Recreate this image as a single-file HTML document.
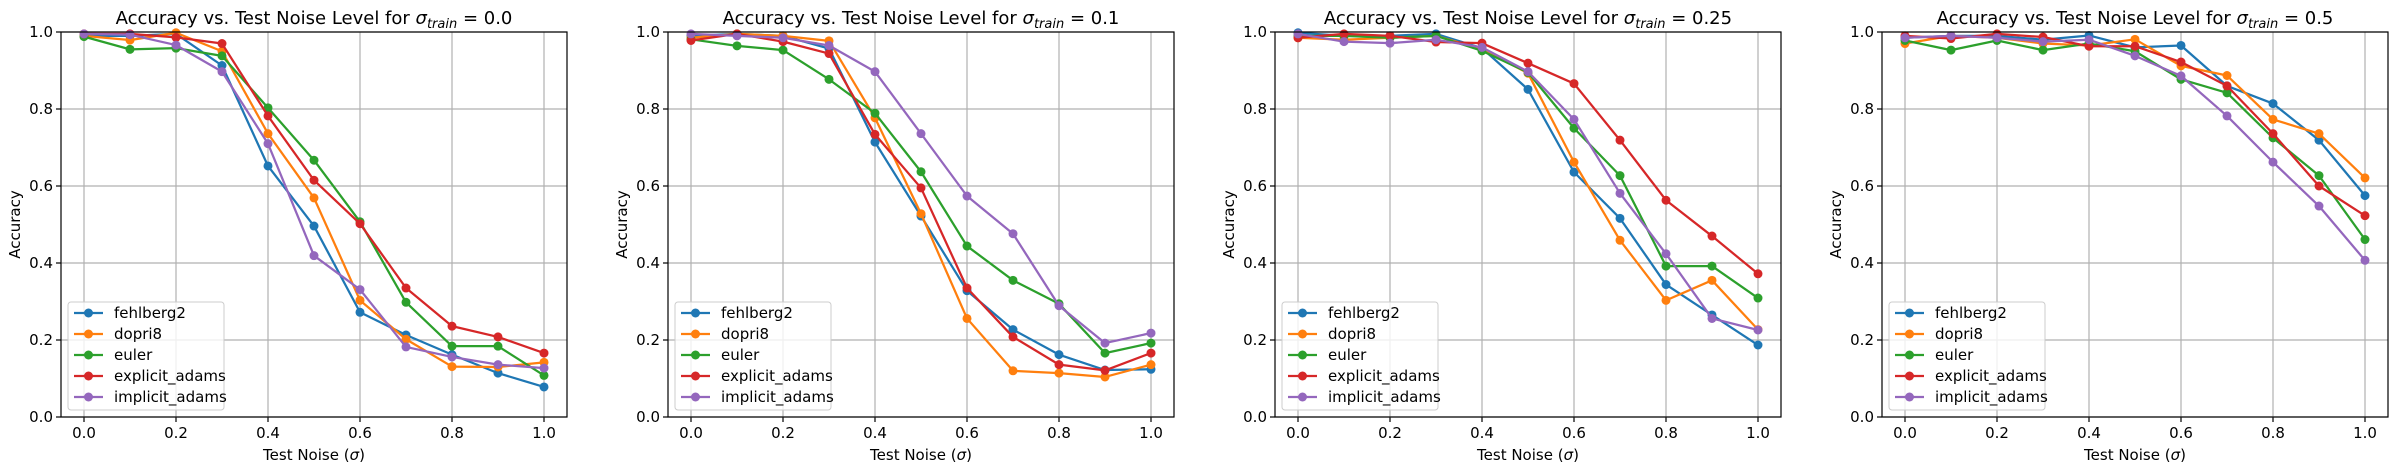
<!DOCTYPE html>
<html><head><meta charset="utf-8"><style>
body{margin:0;background:#fff}
svg{display:block;font-family:"DejaVu Sans","Liberation Sans",sans-serif}
</style></head><body>
<svg id="chart" width="2396" height="472" viewBox="0 0 2396 472" xmlns="http://www.w3.org/2000/svg"></svg>
<script>
const xValues=[0,0.1,0.2,0.3,0.4,0.5,0.6,0.7,0.8,0.9,1.0];
const xTicks=[0,0.2,0.4,0.6,0.8,1.0];
const yTicks=[0,0.2,0.4,0.6,0.8,1.0];
const seriesNames=["fehlberg2","dopri8","euler","explicit_adams","implicit_adams"];
const seriesColors=["#1f77b4","#ff7f0e","#2ca02c","#d62728","#9467bd"];
const trainSigmas=["0.0","0.1","0.25","0.5"];
const p0_fehlberg2=[0.99,0.99,0.995,0.913,0.652,0.496,0.272,0.213,0.162,0.114,0.078];
const p0_dopri8=[0.99,0.979,0.998,0.95,0.736,0.569,0.303,0.202,0.131,0.13,0.142];
const p0_euler=[0.988,0.955,0.958,0.938,0.803,0.667,0.507,0.298,0.184,0.184,0.108];
const p0_explicit=[0.995,0.995,0.986,0.97,0.782,0.615,0.502,0.335,0.236,0.208,0.166];
const p0_implicit=[0.995,0.993,0.966,0.897,0.71,0.419,0.331,0.182,0.156,0.136,0.127];
const p1_fehlberg2=[0.99,0.995,0.99,0.957,0.714,0.522,0.328,0.227,0.162,0.122,0.124];
const p1_dopri8=[0.985,0.995,0.99,0.977,0.777,0.528,0.256,0.12,0.114,0.104,0.136];
const p1_euler=[0.981,0.964,0.953,0.877,0.789,0.637,0.444,0.355,0.294,0.166,0.192];
const p1_explicit=[0.978,0.995,0.975,0.944,0.734,0.595,0.335,0.208,0.136,0.121,0.166];
const p1_implicit=[0.995,0.99,0.985,0.965,0.897,0.736,0.574,0.476,0.289,0.192,0.218];
const p2_fehlberg2=[0.998,0.99,0.99,0.995,0.958,0.851,0.636,0.516,0.344,0.265,0.187];
const p2_dopri8=[0.985,0.98,0.985,0.99,0.955,0.893,0.662,0.459,0.303,0.355,0.227];
const p2_euler=[0.99,0.99,0.985,0.99,0.951,0.895,0.75,0.627,0.392,0.392,0.309];
const p2_explicit=[0.985,0.995,0.99,0.974,0.971,0.919,0.866,0.719,0.563,0.47,0.372];
const p2_implicit=[0.995,0.975,0.971,0.98,0.96,0.897,0.773,0.581,0.424,0.256,0.226];
const p3_fehlberg2=[0.985,0.99,0.99,0.98,0.991,0.96,0.965,0.86,0.814,0.719,0.575];
const p3_dopri8=[0.97,0.99,0.985,0.97,0.965,0.981,0.912,0.887,0.773,0.736,0.621];
const p3_euler=[0.978,0.953,0.978,0.953,0.97,0.95,0.877,0.842,0.725,0.627,0.461];
const p3_explicit=[0.99,0.983,0.995,0.987,0.963,0.963,0.922,0.86,0.736,0.6,0.523];
const p3_implicit=[0.985,0.99,0.985,0.975,0.98,0.938,0.886,0.782,0.662,0.548,0.407];
const panels=[[p0_fehlberg2,p0_dopri8,p0_euler,p0_explicit,p0_implicit],[p1_fehlberg2,p1_dopri8,p1_euler,p1_explicit,p1_implicit],[p2_fehlberg2,p2_dopri8,p2_euler,p2_explicit,p2_implicit],[p3_fehlberg2,p3_dopri8,p3_euler,p3_explicit,p3_implicit]];

const NS="http://www.w3.org/2000/svg";
const svg=document.getElementById('chart');
function mk(tag,attrs,parent){const e=document.createElementNS(NS,tag);for(const k in attrs)e.setAttribute(k,attrs[k]);(parent||svg).appendChild(e);return e;}
const AX_W=506,TOP=32,BOT=417;
panels.forEach((series,pi)=>{
  const L=61+607*pi;
  const g=mk('g',{});
  
  
  const sx=v=>L+(v+0.05)/1.1*AX_W;
  const sy=v=>BOT-v*(BOT-TOP);
  xTicks.forEach(t=>{
    const gl=mk('line',{x1:sx(t),x2:sx(t),y1:TOP,y2:BOT,stroke:'#b0b0b0','stroke-width':1.2},g);
    
    
    mk('line',{x1:sx(t),x2:sx(t),y1:BOT,y2:BOT+5,stroke:'#000','stroke-width':1.2},g);
    const tl=mk('text',{x:sx(t),y:BOT+21,'font-size':15,'text-anchor':'middle',fill:'#000'},g);
    tl.textContent=t.toFixed(1);
    
    
  });
  yTicks.forEach(t=>{
    const gl=mk('line',{x1:L,x2:L+AX_W,y1:sy(t),y2:sy(t),stroke:'#b0b0b0','stroke-width':1.2},g);
    
    
    mk('line',{x1:L-5,x2:L,y1:sy(t),y2:sy(t),stroke:'#000','stroke-width':1.2},g);
    const tl=mk('text',{x:L-8,y:sy(t)+5,'font-size':15,'text-anchor':'end',fill:'#000'},g);
    tl.textContent=t.toFixed(1);
    
    
  });
  series.forEach((vals,si)=>{
    const sg=mk('g',{},g);
    
    
    const pts=vals.map((v,i)=>sx(xValues[i])+','+sy(v)).join(' ');
    const pl=mk('polyline',{points:pts,fill:'none',stroke:seriesColors[si],'stroke-width':2.25,'stroke-linejoin':'round'},sg);
    
    
    vals.forEach((v,i)=>{
      const c=mk('circle',{cx:sx(xValues[i]),cy:sy(v),r:4.5,fill:seriesColors[si]},sg);
      
      
    });
  });
  const frame=mk('rect',{x:L,y:TOP,width:AX_W,height:BOT-TOP,fill:'none',stroke:'#000','stroke-width':1.2},g);
  
  
  const title=mk('text',{x:L+AX_W/2,y:24,'font-size':18,'text-anchor':'middle',fill:'#000'},g);
  
  
  title.innerHTML='Accuracy vs. Test Noise Level for <tspan font-style="italic">σ</tspan><tspan font-style="italic" font-size="13" dy="4">train</tspan><tspan dy="-4"> = '+trainSigmas[pi]+'</tspan>';
  const xl=mk('text',{x:L+AX_W/2,y:460,'font-size':15,'text-anchor':'middle',fill:'#000'},g);
  xl.innerHTML='Test Noise (<tspan font-style="italic">σ</tspan>)';
  
  
  const yl=mk('text',{x:0,y:0,'font-size':15,'text-anchor':'middle',fill:'#000',transform:'translate('+(L-41)+','+((TOP+BOT)/2)+') rotate(-90)'},g);
  yl.textContent='Accuracy';
  
  
  const lg=mk('g',{},g);
  
  
  mk('rect',{x:L+7,y:302,width:156,height:108,rx:3,fill:'#fff','fill-opacity':0.8,stroke:'#cccccc','stroke-width':1},lg);
  seriesNames.forEach((n,si)=>{
    const ey=313+21*si;
    const le=mk('g',{},lg);
    
    
    mk('line',{x1:L+13,x2:L+42,y1:ey,y2:ey,stroke:seriesColors[si],'stroke-width':2.25},le);
    mk('circle',{cx:L+27.5,cy:ey,r:4.5,fill:seriesColors[si]},le);
    const t=mk('text',{x:L+53,y:ey+5,'font-size':15,fill:'#000'},le);
    t.textContent=n;
  });
});
</script>
</body></html>
